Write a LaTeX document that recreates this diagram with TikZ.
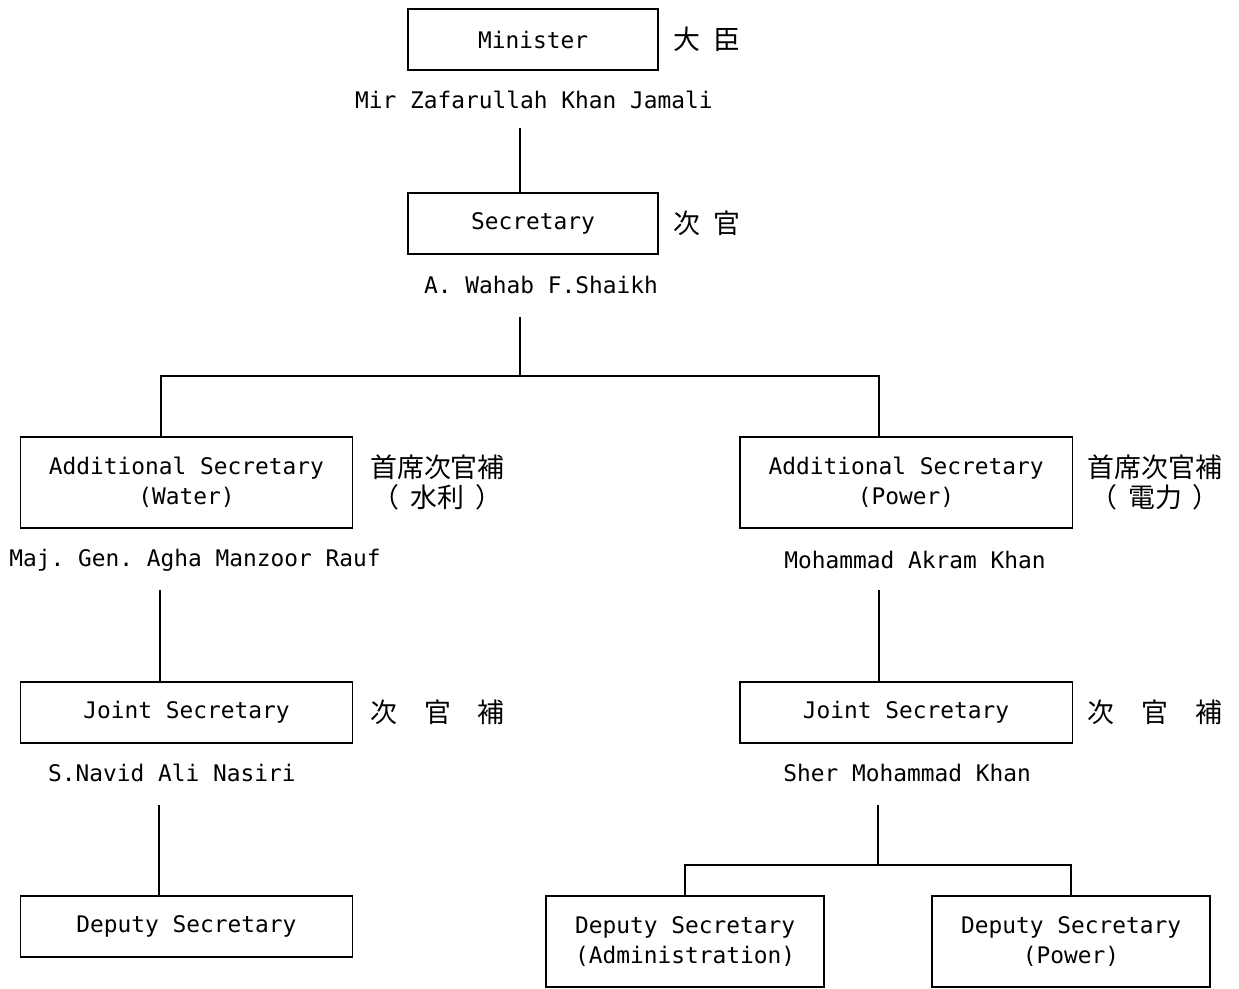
\documentclass[tikz,border=0pt]{standalone}
\usepackage{fontspec}
\setmonofont{DejaVu Sans Mono}
\newfontfamily\jpfont{Noto Sans CJK JP}
\usetikzlibrary{positioning}

\begin{document}
\begin{tikzpicture}[x=0.02cm,y=-0.02cm,
    box/.style={draw,line width=0.8pt,inner sep=0pt,align=center,
      font=\ttfamily\fontsize{13}{17}\selectfont},
    small/.style={box,minimum width=5cm,minimum height=1.22cm},
    wide/.style={box,minimum width=6.65cm,minimum height=1.22cm},
    widetall/.style={box,minimum width=6.65cm,minimum height=1.82cm},
    deptall/.style={box,minimum width=5.56cm,minimum height=1.82cm},
    person/.style={font=\ttfamily\fontsize{13}{17}\selectfont},
    jp/.style={align=center,inner sep=0pt,font=\jpfont\fontsize{15.3}{17}\selectfont},
    link/.style={line width=0.8pt}]
  \useasboundingbox (0,0) rectangle (1239,989);

  % minister and secretary
  \node[small] (minister) at (533,39.5) {Minister};
  \node[jp,anchor=west] (ministerjp) at (673,39.5) {大\hspace{0.5em}臣};
  \node[person] (ministername) at (534,100) {Mir Zafarullah Khan Jamali};
  \node[small] (secretary) at (533,223.5) {Secretary};
  \node[jp,anchor=west] (secretaryjp) at (673,223.5) {次\hspace{0.5em}官};
  \node[person] (secretaryname) at (541,285) {A. Wahab F.Shaikh};

  % water side
  \node[widetall] (addwater) at (186.5,482.5) {Additional Secretary\\(Water)};
  \node[jp] (addwaterjp) at (437.5,482.5) {首席次官補\\（\hspace{0.4em}水利\hspace{0.4em}）};
  \node[person] (addwatername) at (195,560) {Maj. Gen. Agha Manzoor Rauf};
  \node[wide] (jointwater) at (186.5,712.5) {Joint Secretary};
  \node[jp] (jointwaterjp) at (437.5,712.5) {次　官　補};
  \node[person] (jointwatername) at (172,773) {S.Navid Ali Nasiri};
  \node[wide] (depwater) at (186.5,926.5) {Deputy Secretary};

  % power side
  \node[widetall] (addpower) at (906,482.5) {Additional Secretary\\(Power)};
  \node[jp] (addpowerjp) at (1155,482.5) {首席次官補\\（\hspace{0.4em}電力\hspace{0.4em}）};
  \node[person] (addpowername) at (915,560) {Mohammad Akram Khan};
  \node[wide] (jointpower) at (906,712.5) {Joint Secretary};
  \node[jp] (jointpowerjp) at (1155,712.5) {次　官　補};
  \node[person] (jointpowername) at (907,773) {Sher Mohammad Khan};
  \node[deptall] (depadmin) at (685,941.5) {Deputy Secretary\\(Administration)};
  \node[deptall] (deppower) at (1071,941.5) {Deputy Secretary\\(Power)};

  % connectors
  \coordinate (mdrop) at (520,128);
  \coordinate (sdrop) at (520,317);
  \coordinate (sfork) at (520,376);
  \coordinate (wdrop) at (160,590);
  \coordinate (jwdrop) at (159,805);
  \coordinate (pdrop) at (879,590);
  \coordinate (jpdrop) at (878,805);
  \coordinate (pfork) at (878,865);
  \draw[link] (mdrop) -- (mdrop |- secretary.north);
  \draw[link] (sdrop) -- (sfork);
  \draw[link] ([xshift=-0.51cm]addwater.north) |- (sfork) -| ([xshift=-0.54cm]addpower.north);
  \draw[link] (wdrop) -- (wdrop |- jointwater.north);
  \draw[link] (jwdrop) -- (jwdrop |- depwater.north);
  \draw[link] (pdrop) -- (pdrop |- jointpower.north);
  \draw[link] (jpdrop) -- (pfork);
  \draw[link] (depadmin.north) |- (pfork) -| (deppower.north);
\end{tikzpicture}
\end{document}
